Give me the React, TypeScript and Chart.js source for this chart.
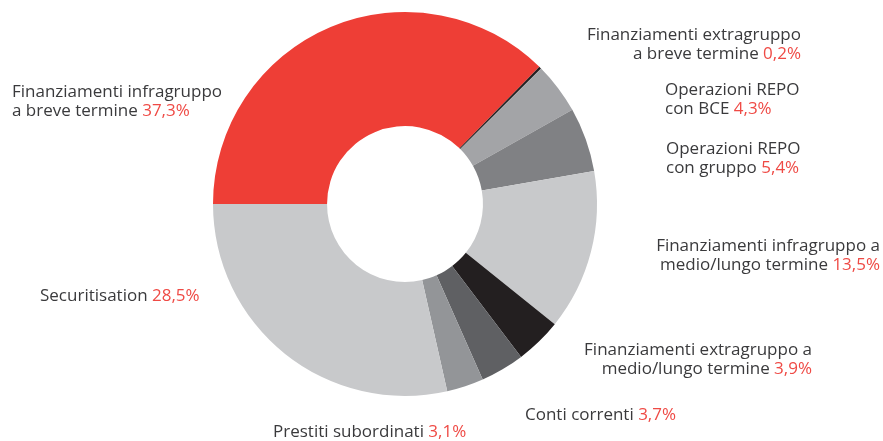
import React, { useEffect, useRef } from "react";
import { Chart, registerables } from "chart.js";

Chart.register(...registerables);

const categories = [
  ["Finanziamenti infragruppo", "a breve termine"],
  ["Finanziamenti extragruppo", "a breve termine"],
  ["Operazioni REPO", "con BCE"],
  ["Operazioni REPO", "con gruppo"],
  ["Finanziamenti infragruppo a", "medio/lungo termine"],
  ["Finanziamenti extragruppo a", "medio/lungo termine"],
  ["Conti correnti"],
  ["Prestiti subordinati"],
  ["Securitisation"],
];
const values = [37.3, 0.2, 4.3, 5.4, 13.5, 3.9, 3.7, 3.1, 28.5];
const valueLabels = ["37,3%", "0,2%", "4,3%", "5,4%", "13,5%", "3,9%", "3,7%", "3,1%", "28,5%"];
const colors = [
  "#ee3e36",
  "#231f20",
  "#a3a4a7",
  "#808184",
  "#c8c9cb",
  "#231f20",
  "#5f6063",
  "#939598",
  "#c8c9cb",
];

// label layout: offsets from chart centre (px), alignment, first baseline
const labelLayout = [
  { dx: -393, dy: -107, align: "left" },
  { dx: 396, dy: -164, align: "right" },
  { dx: 260, dy: -109, align: "left" },
  { dx: 261, dy: -50, align: "left" },
  { dx: 475, dy: 47, align: "right" },
  { dx: 407, dy: 151, align: "right" },
  { dx: 120, dy: 216, align: "left" },
  { dx: -132, dy: 233, align: "left" },
  { dx: -365, dy: 97, align: "left" },
];

const FONT = '17px "Open Sans"';
const LINE_H = 18.5;
const TEXT_COLOR = "#3a3a3c";
const VALUE_COLOR = "#ef4a45";

const labelPlugin = {
  id: "sliceLabels",
  afterDraw(chart: any) {
    const ctx = chart.ctx;
    const arc = chart.getDatasetMeta(0).data[0];
    const cx = arc.x;
    const cy = arc.y;
    ctx.save();
    ctx.font = FONT;
    ctx.textBaseline = "alphabetic";
    categories.forEach((lines, i) => {
      const lay = labelLayout[i];
      const x = cx + lay.dx;
      lines.forEach((line, j) => {
        const y = cy + lay.dy + j * LINE_H;
        const isLast = j === lines.length - 1;
        const main = isLast ? line + " " : line;
        const mainW = ctx.measureText(main).width;
        const valW = isLast ? ctx.measureText(valueLabels[i]).width : 0;
        const total = mainW + valW;
        let start = x;
        if (lay.align === "right") start = x - total;
        ctx.textAlign = "left";
        ctx.fillStyle = TEXT_COLOR;
        ctx.fillText(main, start, y);
        if (isLast) {
          ctx.fillStyle = VALUE_COLOR;
          ctx.fillText(valueLabels[i], start + mainW, y);
        }
      });
    });
    ctx.restore();
  },
};

export default function App() {
  const ref = useRef<HTMLCanvasElement>(null);
  useEffect(() => {
    if (!ref.current) return;
    const chart = new Chart(ref.current, {
      type: "doughnut",
      data: {
        labels: categories.map((c) => c.join(" ")),
        datasets: [
          {
            data: values,
            backgroundColor: colors,
            borderWidth: 0,
            hoverOffset: 0,
          },
        ],
      },
      options: {
        animation: false,
        responsive: false,
        rotation: -90,
        cutout: "40.6%",
        layout: { padding: { left: 213, right: 286, top: 12, bottom: 45 } },
        plugins: {
          legend: { display: false },
          tooltip: { enabled: false },
        },
      },
      plugins: [labelPlugin],
    });
    return () => chart.destroy();
  }, []);
  return (
    <div style={{ position: "fixed", left: 0, top: 0, width: 883, height: 441, background: "#fff" }}>
      <canvas ref={ref} width={883} height={441} style={{ width: 883, height: 441 }} />
    </div>
  );
}
